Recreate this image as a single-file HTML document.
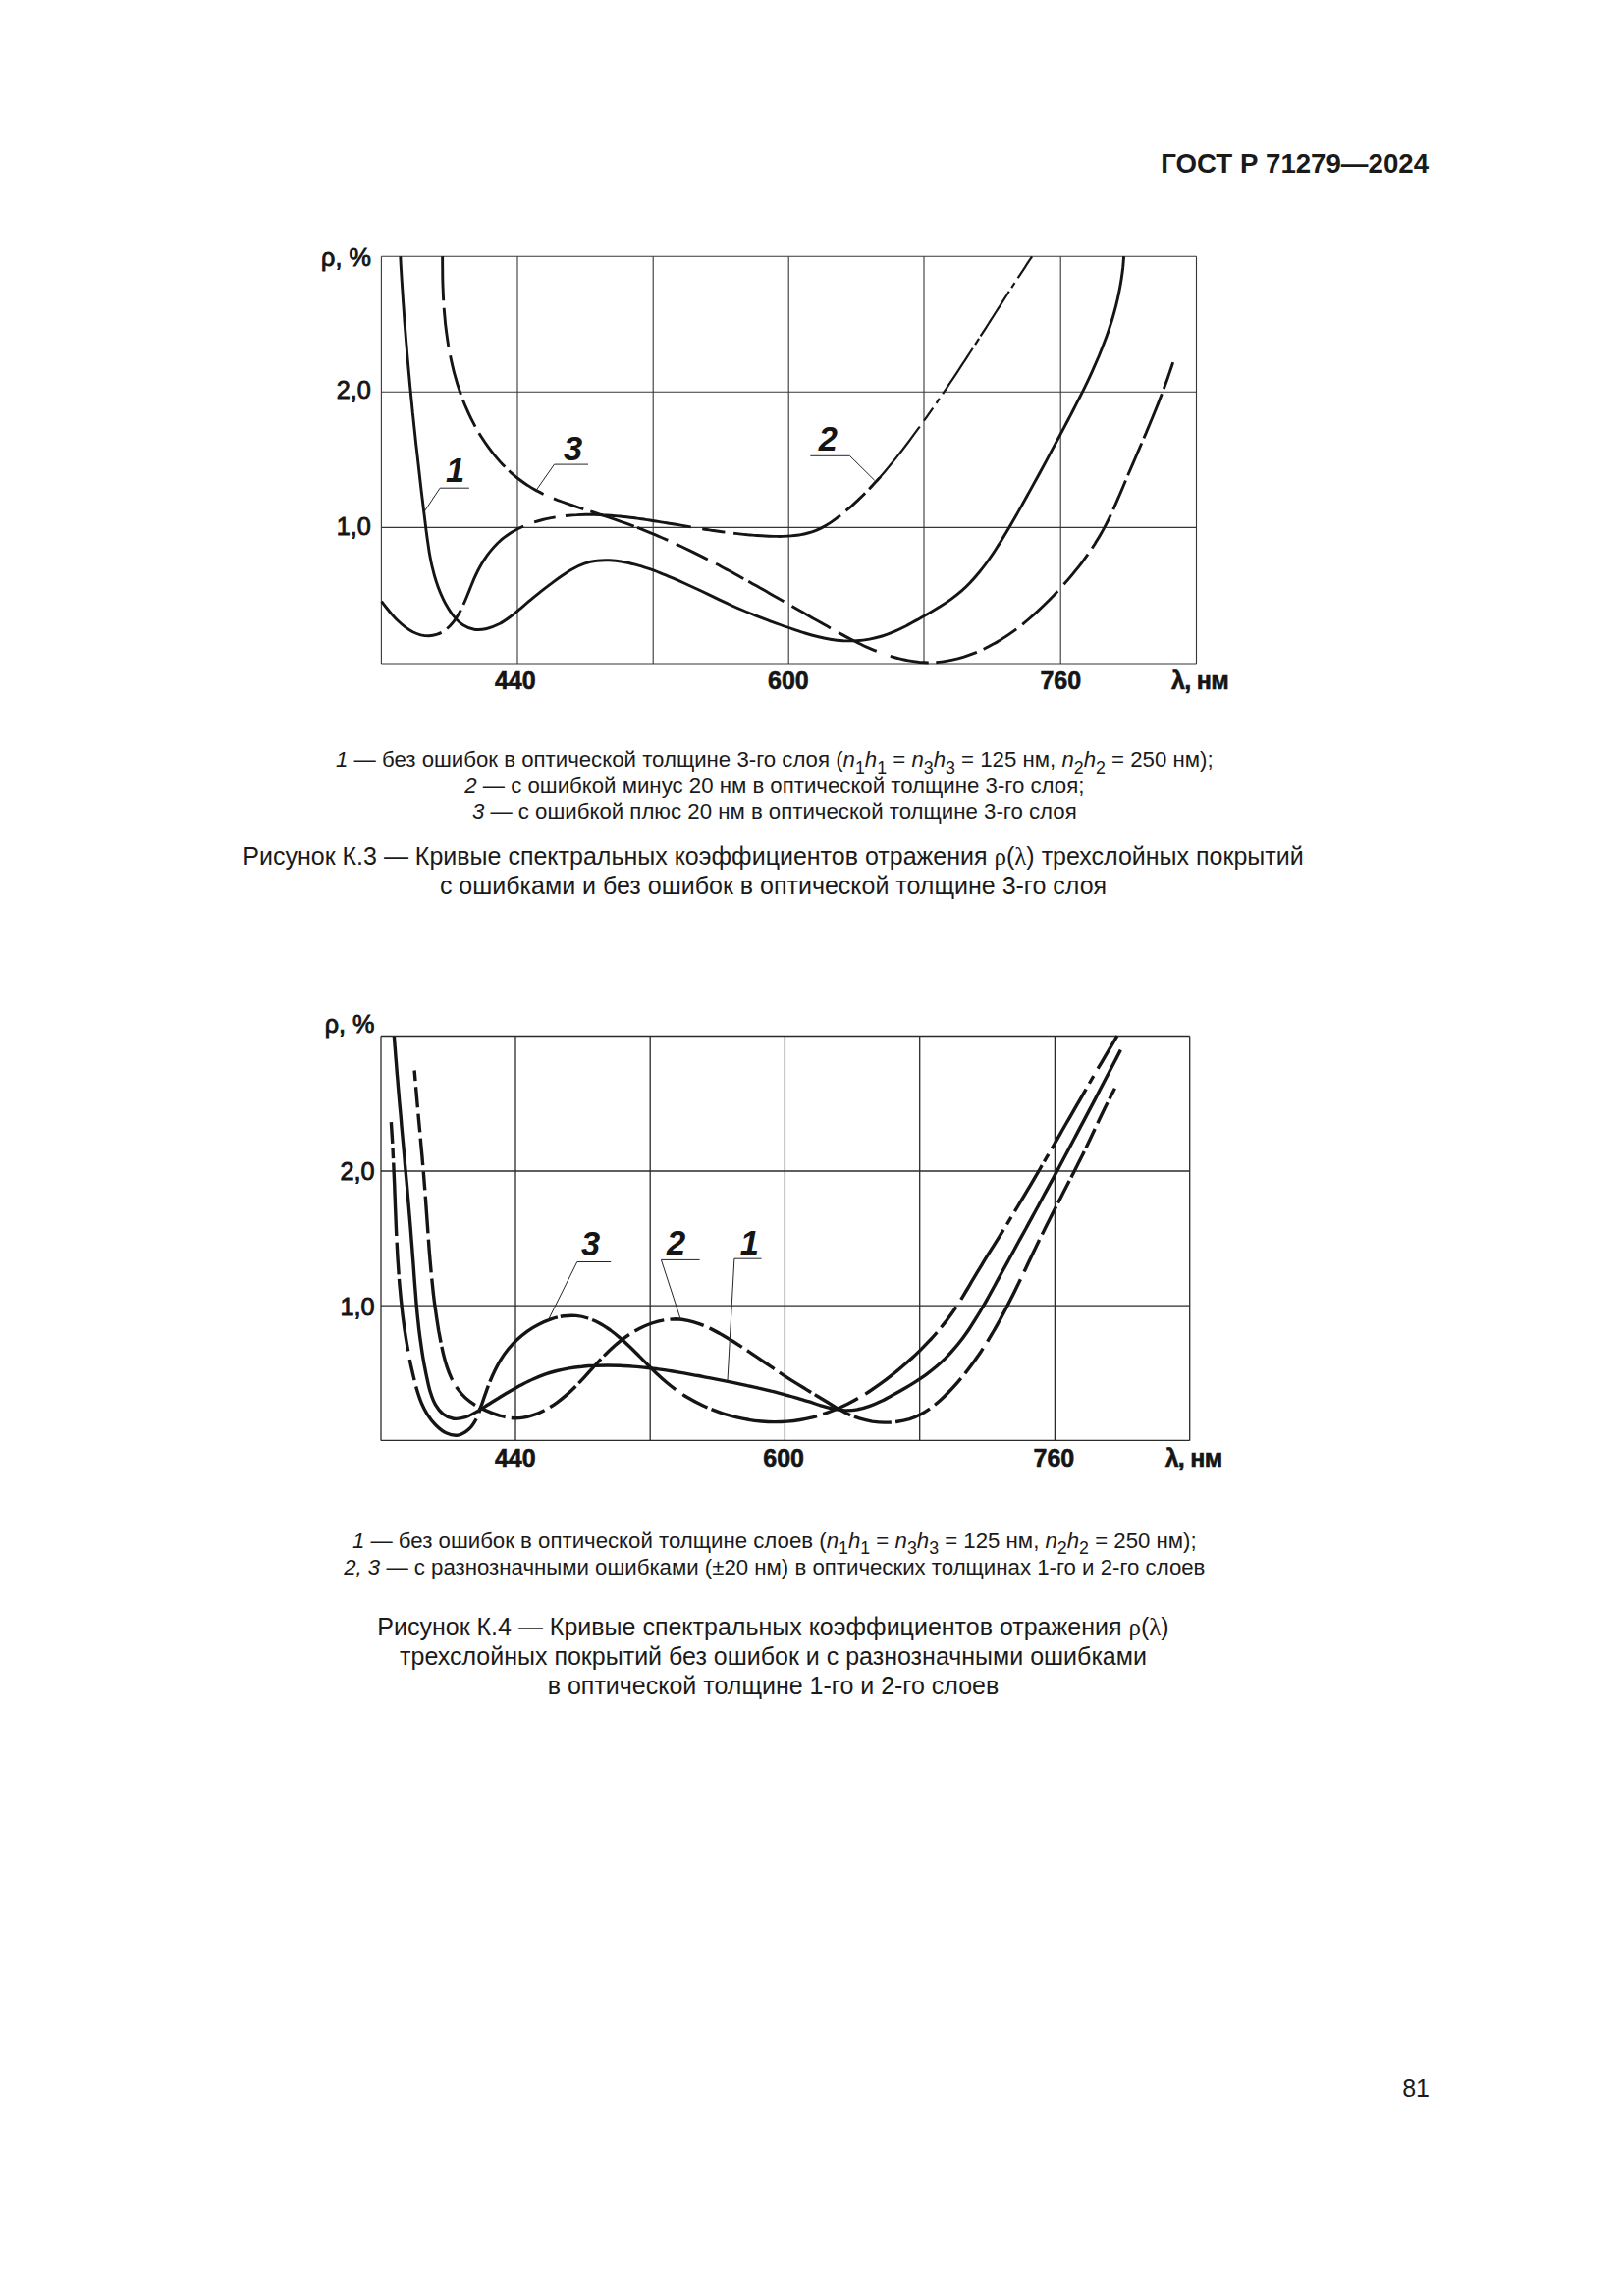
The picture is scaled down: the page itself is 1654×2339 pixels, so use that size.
<!DOCTYPE html>
<html lang="ru">
<head>
<meta charset="utf-8">
<title>ГОСТ Р 71279—2024 — стр. 81</title>
<style>
html,body{margin:0;padding:0;background:#fff;}
body{width:1654px;height:2339px;overflow:hidden;}
.page{position:relative;width:1654px;height:2339px;background:#fff;color:#1a1a1a;
  font-family:"Liberation Sans",sans-serif;}
figure,figcaption,main{margin:0;padding:0;display:block;}
.chart{position:absolute;overflow:visible;}
.hdr{position:absolute;right:199px;top:149.3px;font-size:27.65px;line-height:36px;font-weight:bold;white-space:nowrap;}
.pg{position:absolute;right:198px;top:2111px;font-size:25px;line-height:32px;white-space:nowrap;}
.ln{position:absolute;left:187.5px;width:1200px;text-align:center;white-space:nowrap;}
.lg{font-size:22.22px;line-height:26px;left:188.8px;}
.cp{font-size:25px;line-height:30px;}
.sym{font-family:"Liberation Serif",serif;}
sub{font-size:0.8em;vertical-align:baseline;position:relative;top:0.36em;line-height:0;}
</style>
</head>
<body>
<div class="page">
<header class="hdr">ГОСТ Р 71279—2024</header>
<main>
<figure>
<svg class="chart" role="img" aria-label="Рисунок К.3" style="left:300px;top:230px" width="1000" height="500" viewBox="300 230 1000 500">
<g stroke="#363636" stroke-width="1.10"><line x1="388.4" y1="261.2" x2="388.4" y2="676.0"/><line x1="527.0" y1="261.2" x2="527.0" y2="676.0"/><line x1="665.2" y1="261.2" x2="665.2" y2="676.0"/><line x1="803.2" y1="261.2" x2="803.2" y2="676.0"/><line x1="941.0" y1="261.2" x2="941.0" y2="676.0"/><line x1="1080.2" y1="261.2" x2="1080.2" y2="676.0"/><line x1="1218.5" y1="261.2" x2="1218.5" y2="676.0"/><line x1="388.4" y1="261.2" x2="1218.5" y2="261.2"/><line x1="388.4" y1="399.2" x2="1218.5" y2="399.2"/><line x1="388.4" y1="537.4" x2="1218.5" y2="537.4"/><line x1="388.4" y1="676.0" x2="1218.5" y2="676.0"/></g>
<path d="M407.8 261.3C407.9 263.5 408.2 270.1 408.5 274.5C408.8 278.9 409.0 283.3 409.3 287.7C409.6 292.1 409.9 296.6 410.2 301.0C410.4 305.4 410.8 309.8 411.1 314.2C411.4 318.7 411.7 323.1 412.0 327.5C412.4 331.9 412.7 336.3 413.1 340.8C413.4 345.2 413.8 349.6 414.2 354.0C414.5 358.5 414.9 362.9 415.3 367.3C415.7 371.8 416.1 376.2 416.5 380.6C416.9 385.0 417.3 389.5 417.7 393.9C418.2 398.3 418.6 402.7 419.0 407.1C419.5 411.6 419.9 416.0 420.3 420.4C420.8 424.8 421.3 429.3 421.7 433.7C422.2 438.1 422.7 442.5 423.1 446.9C423.6 451.3 424.1 455.8 424.6 460.2C425.1 464.6 425.6 469.0 426.1 473.4C426.6 477.8 427.1 482.2 427.6 486.6C428.1 491.0 428.6 495.4 429.1 499.8C429.6 504.2 430.2 508.6 430.7 513.0C431.2 517.4 431.8 521.8 432.3 526.1C432.8 530.5 433.4 534.9 433.9 539.3C434.5 543.7 435.0 548.0 435.7 552.4C436.3 556.7 436.9 561.1 437.7 565.4C438.5 569.8 439.3 574.1 440.4 578.4C441.4 582.7 442.5 586.9 443.9 591.2C445.2 595.4 446.7 599.7 448.5 603.8C450.3 608.0 452.2 612.3 454.5 616.3C456.8 620.3 459.3 624.5 462.2 627.9C465.0 631.3 468.1 634.6 471.6 636.8C475.1 639.1 479.0 640.6 483.0 641.2C487.0 641.8 491.5 641.4 495.7 640.5C499.9 639.6 504.2 637.8 508.1 635.8C512.1 633.9 515.9 631.2 519.5 628.5C523.2 625.9 526.7 622.8 530.2 619.9C533.6 616.9 537.0 613.9 540.4 611.1C543.8 608.2 547.1 605.6 550.5 602.9C553.9 600.2 557.3 597.6 560.9 594.9C564.4 592.3 568.0 589.5 571.7 587.0C575.4 584.4 579.2 581.8 583.1 579.7C587.0 577.6 591.0 575.6 595.1 574.2C599.2 572.8 603.4 571.8 607.7 571.3C612.0 570.7 616.3 570.6 620.7 570.8C625.0 571.0 629.5 571.5 633.9 572.3C638.3 573.0 642.7 574.1 647.1 575.2C651.5 576.4 655.8 577.8 660.1 579.2C664.4 580.6 668.6 582.2 672.8 583.8C676.9 585.4 681.0 587.1 685.1 588.8C689.2 590.5 693.2 592.3 697.2 594.2C701.2 596.0 705.2 597.8 709.2 599.7C713.2 601.6 717.1 603.5 721.1 605.4C725.0 607.3 729.0 609.2 733.0 611.1C737.0 613.0 741.0 614.8 745.0 616.7C749.0 618.5 753.1 620.3 757.2 622.0C761.3 623.8 765.4 625.4 769.6 627.1C773.7 628.7 777.9 630.3 782.1 631.9C786.3 633.5 790.5 635.0 794.7 636.5C798.9 638.0 803.1 639.5 807.3 640.9C811.5 642.3 815.6 643.7 819.9 645.0C824.1 646.3 828.3 647.5 832.6 648.5C836.9 649.6 841.2 650.5 845.6 651.2C850.0 651.9 854.5 652.4 858.9 652.7C863.3 652.9 867.8 653.0 872.3 652.7C876.7 652.4 881.1 651.9 885.5 651.1C889.8 650.3 894.2 649.2 898.4 648.0C902.6 646.7 906.8 645.1 910.8 643.4C914.9 641.7 918.8 639.8 922.8 637.8C926.7 635.7 930.5 633.5 934.4 631.4C938.3 629.2 942.2 626.9 946.1 624.7C949.9 622.4 953.8 620.1 957.6 617.8C961.4 615.4 965.2 612.9 968.7 610.3C972.3 607.7 975.8 605.0 979.1 602.1C982.4 599.2 985.6 596.1 988.6 592.9C991.7 589.8 994.5 586.4 997.3 583.0C1000.1 579.6 1002.8 576.1 1005.4 572.5C1008.0 568.9 1010.5 565.3 1013.0 561.5C1015.4 557.8 1017.8 554.0 1020.1 550.2C1022.4 546.4 1024.7 542.6 1027.0 538.7C1029.2 534.9 1031.5 531.0 1033.7 527.2C1035.9 523.3 1038.1 519.5 1040.3 515.6C1042.4 511.8 1044.6 507.9 1046.7 504.0C1048.9 500.2 1051.0 496.3 1053.1 492.4C1055.3 488.5 1057.4 484.7 1059.5 480.8C1061.6 476.9 1063.7 473.0 1065.8 469.1C1067.9 465.2 1070.0 461.3 1072.0 457.4C1074.1 453.5 1076.2 449.6 1078.3 445.7C1080.4 441.8 1082.5 437.9 1084.6 433.9C1086.6 430.0 1088.7 426.1 1090.8 422.1C1092.8 418.2 1094.9 414.2 1096.9 410.2C1098.9 406.3 1100.9 402.3 1102.9 398.3C1104.9 394.3 1106.8 390.3 1108.7 386.3C1110.6 382.3 1112.4 378.2 1114.2 374.2C1116.0 370.1 1117.8 366.0 1119.5 362.0C1121.2 357.9 1122.8 353.8 1124.4 349.6C1126.0 345.5 1127.5 341.3 1128.9 337.2C1130.3 333.0 1131.7 328.8 1133.0 324.5C1134.2 320.3 1135.4 316.1 1136.5 311.8C1137.6 307.5 1138.6 303.2 1139.5 298.9C1140.4 294.5 1141.2 290.2 1141.9 285.8C1142.6 281.4 1143.2 276.6 1143.7 272.5C1144.1 268.4 1144.4 263.1 1144.6 261.2" fill="none" stroke="#151515" stroke-width="2.9"/>
<defs><clipPath id="c2lo"><path d="M300 230H1300V730H300ZM884 230H1300V486H884Z" clip-rule="evenodd"/></clipPath><clipPath id="c2hi"><rect x="884" y="230" width="416" height="256"/></clipPath></defs>
<path d="M388.6 612.6C389.4 613.7 391.7 616.8 393.5 619.0C395.2 621.2 397.2 623.7 399.2 625.9C401.2 628.2 403.4 630.6 405.7 632.8C407.9 634.9 410.3 637.1 412.8 638.9C415.2 640.7 417.8 642.4 420.4 643.8C423.1 645.1 425.8 646.1 428.5 646.8C431.2 647.4 434.0 647.7 436.7 647.7C439.4 647.6 442.1 647.2 444.6 646.4C447.2 645.7 449.7 644.5 452.0 643.0C454.2 641.5 456.4 639.6 458.4 637.5C460.4 635.4 462.3 633.0 464.0 630.6C465.7 628.1 467.2 625.5 468.7 622.8C470.1 620.1 471.4 617.3 472.6 614.5C473.8 611.8 475.0 609.0 476.1 606.2C477.2 603.5 478.3 600.7 479.4 598.0C480.5 595.3 481.6 592.6 482.7 589.9C483.9 587.2 485.1 584.6 486.4 582.0C487.7 579.3 489.1 576.8 490.6 574.2C492.1 571.7 493.7 569.2 495.4 566.8C497.1 564.4 498.9 562.1 500.8 559.9C502.7 557.6 504.7 555.5 506.7 553.5C508.8 551.4 511.0 549.5 513.3 547.7C515.5 545.9 517.9 544.3 520.3 542.7C522.8 541.2 525.3 539.8 527.9 538.5C530.5 537.2 533.1 536.0 535.8 534.9C538.5 533.8 541.3 532.8 544.1 531.9C546.9 531.0 549.8 530.2 552.6 529.5C555.5 528.8 558.4 528.2 561.3 527.6C564.2 527.1 567.1 526.6 570.1 526.2C573.0 525.8 575.9 525.5 578.8 525.2C581.7 524.9 584.7 524.7 587.6 524.6C590.5 524.4 593.4 524.3 596.4 524.3C599.3 524.3 602.2 524.3 605.1 524.3C608.1 524.4 611.0 524.5 613.9 524.7C616.8 524.8 619.7 525.0 622.7 525.2C625.6 525.5 628.5 525.7 631.4 526.0C634.3 526.3 637.2 526.7 640.1 527.0C643.0 527.4 645.9 527.7 648.8 528.1C651.8 528.5 654.6 529.0 657.5 529.4C660.4 529.8 663.3 530.3 666.2 530.7C669.1 531.2 672.0 531.6 674.9 532.1C677.8 532.6 680.7 533.0 683.5 533.5C686.4 534.0 689.3 534.5 692.2 534.9C695.1 535.4 697.9 535.9 700.8 536.4C703.7 536.9 706.6 537.3 709.5 537.8C712.3 538.3 715.2 538.7 718.1 539.2C721.0 539.6 723.9 540.1 726.8 540.5C729.6 540.9 732.5 541.3 735.4 541.7C738.3 542.1 741.2 542.5 744.1 542.9C747.0 543.2 750.0 543.6 752.9 543.9C755.8 544.2 758.7 544.5 761.6 544.8C764.6 545.0 767.5 545.3 770.4 545.5C773.4 545.7 776.3 545.9 779.3 546.0C782.2 546.2 785.2 546.3 788.2 546.4C791.1 546.4 794.1 546.5 797.0 546.4C800.0 546.3 802.9 546.2 805.8 545.9C808.8 545.7 811.6 545.3 814.5 544.9C817.3 544.4 820.2 543.8 822.9 543.0C825.7 542.3 828.4 541.4 831.1 540.3C833.7 539.3 836.3 538.0 838.9 536.6C841.4 535.2 843.9 533.7 846.3 532.1C848.8 530.4 851.2 528.7 853.5 526.9C855.9 525.1 858.2 523.2 860.5 521.3C862.7 519.4 865.0 517.5 867.2 515.6C869.4 513.6 871.5 511.6 873.7 509.6C875.8 507.6 877.9 505.6 880.0 503.5C882.1 501.4 884.1 499.3 886.1 497.2C888.1 495.1 890.1 492.9 892.1 490.8C894.1 488.6 896.0 486.4 897.9 484.2C899.9 482.0 901.8 479.8 903.6 477.5C905.5 475.3 907.4 473.0 909.2 470.8C911.1 468.5 912.9 466.2 914.7 463.9C916.5 461.6 918.3 459.3 920.1 457.0C921.9 454.7 923.6 452.3 925.4 450.0C927.2 447.6 928.9 445.3 930.6 442.9C932.4 440.6 934.1 438.2 935.8 435.9C937.6 433.5 939.3 431.1 941.0 428.8C942.7 426.4 944.4 424.0 946.0 421.6C947.7 419.2 949.4 416.8 951.1 414.4C952.7 412.0 954.4 409.6 956.0 407.2C957.7 404.8 959.3 402.4 961.0 399.9C962.6 397.5 964.3 395.1 965.9 392.7C967.5 390.2 969.1 387.8 970.8 385.4C972.4 382.9 974.0 380.5 975.6 378.1C977.2 375.6 978.8 373.2 980.4 370.7C982.0 368.3 983.6 365.8 985.2 363.4C986.8 360.9 988.4 358.4 990.0 356.0C991.5 353.5 993.1 351.1 994.7 348.6C996.3 346.1 997.9 343.7 999.4 341.2C1001.0 338.8 1002.6 336.3 1004.2 333.8C1005.8 331.4 1007.3 328.9 1008.9 326.4C1010.5 324.0 1012.1 321.5 1013.6 319.0C1015.2 316.6 1016.8 314.1 1018.4 311.6C1019.9 309.2 1021.5 306.7 1023.1 304.2C1024.7 301.8 1026.3 299.3 1027.8 296.8C1029.4 294.4 1031.0 291.9 1032.6 289.5C1034.2 287.0 1035.8 284.6 1037.4 282.1C1039.0 279.6 1040.6 277.2 1042.2 274.8C1043.8 272.3 1045.6 269.7 1047.0 267.4C1048.5 265.2 1050.4 262.3 1051.1 261.3" fill="none" stroke="#151515" stroke-width="2.9" stroke-dasharray="75.2 6.9 23.8 6.1 103.9 11.7 22.2 10.3 128.7 11.7 23.4 8.8 114.1 7.4 26.4 5.9 81.9 7.3 16.1 5.8 5.8 5.8 55.6 4.4 7.3 3.0 54.1 4.4 5.9 5.9 76.3 0.0" clip-path="url(#c2lo)"/>
<path d="M388.6 612.6C389.4 613.7 391.7 616.8 393.5 619.0C395.2 621.2 397.2 623.7 399.2 625.9C401.2 628.2 403.4 630.6 405.7 632.8C407.9 634.9 410.3 637.1 412.8 638.9C415.2 640.7 417.8 642.4 420.4 643.8C423.1 645.1 425.8 646.1 428.5 646.8C431.2 647.4 434.0 647.7 436.7 647.7C439.4 647.6 442.1 647.2 444.6 646.4C447.2 645.7 449.7 644.5 452.0 643.0C454.2 641.5 456.4 639.6 458.4 637.5C460.4 635.4 462.3 633.0 464.0 630.6C465.7 628.1 467.2 625.5 468.7 622.8C470.1 620.1 471.4 617.3 472.6 614.5C473.8 611.8 475.0 609.0 476.1 606.2C477.2 603.5 478.3 600.7 479.4 598.0C480.5 595.3 481.6 592.6 482.7 589.9C483.9 587.2 485.1 584.6 486.4 582.0C487.7 579.3 489.1 576.8 490.6 574.2C492.1 571.7 493.7 569.2 495.4 566.8C497.1 564.4 498.9 562.1 500.8 559.9C502.7 557.6 504.7 555.5 506.7 553.5C508.8 551.4 511.0 549.5 513.3 547.7C515.5 545.9 517.9 544.3 520.3 542.7C522.8 541.2 525.3 539.8 527.9 538.5C530.5 537.2 533.1 536.0 535.8 534.9C538.5 533.8 541.3 532.8 544.1 531.9C546.9 531.0 549.8 530.2 552.6 529.5C555.5 528.8 558.4 528.2 561.3 527.6C564.2 527.1 567.1 526.6 570.1 526.2C573.0 525.8 575.9 525.5 578.8 525.2C581.7 524.9 584.7 524.7 587.6 524.6C590.5 524.4 593.4 524.3 596.4 524.3C599.3 524.3 602.2 524.3 605.1 524.3C608.1 524.4 611.0 524.5 613.9 524.7C616.8 524.8 619.7 525.0 622.7 525.2C625.6 525.5 628.5 525.7 631.4 526.0C634.3 526.3 637.2 526.7 640.1 527.0C643.0 527.4 645.9 527.7 648.8 528.1C651.8 528.5 654.6 529.0 657.5 529.4C660.4 529.8 663.3 530.3 666.2 530.7C669.1 531.2 672.0 531.6 674.9 532.1C677.8 532.6 680.7 533.0 683.5 533.5C686.4 534.0 689.3 534.5 692.2 534.9C695.1 535.4 697.9 535.9 700.8 536.4C703.7 536.9 706.6 537.3 709.5 537.8C712.3 538.3 715.2 538.7 718.1 539.2C721.0 539.6 723.9 540.1 726.8 540.5C729.6 540.9 732.5 541.3 735.4 541.7C738.3 542.1 741.2 542.5 744.1 542.9C747.0 543.2 750.0 543.6 752.9 543.9C755.8 544.2 758.7 544.5 761.6 544.8C764.6 545.0 767.5 545.3 770.4 545.5C773.4 545.7 776.3 545.9 779.3 546.0C782.2 546.2 785.2 546.3 788.2 546.4C791.1 546.4 794.1 546.5 797.0 546.4C800.0 546.3 802.9 546.2 805.8 545.9C808.8 545.7 811.6 545.3 814.5 544.9C817.3 544.4 820.2 543.8 822.9 543.0C825.7 542.3 828.4 541.4 831.1 540.3C833.7 539.3 836.3 538.0 838.9 536.6C841.4 535.2 843.9 533.7 846.3 532.1C848.8 530.4 851.2 528.7 853.5 526.9C855.9 525.1 858.2 523.2 860.5 521.3C862.7 519.4 865.0 517.5 867.2 515.6C869.4 513.6 871.5 511.6 873.7 509.6C875.8 507.6 877.9 505.6 880.0 503.5C882.1 501.4 884.1 499.3 886.1 497.2C888.1 495.1 890.1 492.9 892.1 490.8C894.1 488.6 896.0 486.4 897.9 484.2C899.9 482.0 901.8 479.8 903.6 477.5C905.5 475.3 907.4 473.0 909.2 470.8C911.1 468.5 912.9 466.2 914.7 463.9C916.5 461.6 918.3 459.3 920.1 457.0C921.9 454.7 923.6 452.3 925.4 450.0C927.2 447.6 928.9 445.3 930.6 442.9C932.4 440.6 934.1 438.2 935.8 435.9C937.6 433.5 939.3 431.1 941.0 428.8C942.7 426.4 944.4 424.0 946.0 421.6C947.7 419.2 949.4 416.8 951.1 414.4C952.7 412.0 954.4 409.6 956.0 407.2C957.7 404.8 959.3 402.4 961.0 399.9C962.6 397.5 964.3 395.1 965.9 392.7C967.5 390.2 969.1 387.8 970.8 385.4C972.4 382.9 974.0 380.5 975.6 378.1C977.2 375.6 978.8 373.2 980.4 370.7C982.0 368.3 983.6 365.8 985.2 363.4C986.8 360.9 988.4 358.4 990.0 356.0C991.5 353.5 993.1 351.1 994.7 348.6C996.3 346.1 997.9 343.7 999.4 341.2C1001.0 338.8 1002.6 336.3 1004.2 333.8C1005.8 331.4 1007.3 328.9 1008.9 326.4C1010.5 324.0 1012.1 321.5 1013.6 319.0C1015.2 316.6 1016.8 314.1 1018.4 311.6C1019.9 309.2 1021.5 306.7 1023.1 304.2C1024.7 301.8 1026.3 299.3 1027.8 296.8C1029.4 294.4 1031.0 291.9 1032.6 289.5C1034.2 287.0 1035.8 284.6 1037.4 282.1C1039.0 279.6 1040.6 277.2 1042.2 274.8C1043.8 272.3 1045.6 269.7 1047.0 267.4C1048.5 265.2 1050.4 262.3 1051.1 261.3" fill="none" stroke="#151515" stroke-width="2.2" stroke-dasharray="75.2 6.9 23.8 6.1 103.9 11.7 22.2 10.3 128.7 11.7 23.4 8.8 114.1 7.4 26.4 5.9 81.9 7.3 16.1 5.8 5.8 5.8 55.6 4.4 7.3 3.0 54.1 4.4 5.9 5.9 76.3 0.0" clip-path="url(#c2hi)"/>
<path d="M450.6 261.2C450.7 263.1 450.6 268.7 450.7 272.4C450.7 276.2 450.8 279.9 450.8 283.7C450.9 287.5 451.0 291.2 451.2 295.0C451.3 298.8 451.5 302.5 451.7 306.3C451.9 310.1 452.2 313.8 452.5 317.6C452.8 321.3 453.2 325.1 453.5 328.8C453.9 332.6 454.4 336.3 454.9 340.1C455.4 343.8 455.9 347.5 456.5 351.2C457.2 354.9 457.8 358.6 458.6 362.3C459.3 366.0 460.1 369.6 461.0 373.3C461.8 376.9 462.7 380.5 463.8 384.1C464.8 387.7 465.8 391.3 467.0 394.9C468.2 398.4 469.4 402.0 470.7 405.5C472.1 409.0 473.5 412.5 475.0 415.9C476.5 419.4 478.0 422.8 479.7 426.2C481.4 429.6 483.2 433.0 485.0 436.3C486.9 439.6 488.8 442.8 490.9 446.0C492.9 449.2 495.1 452.4 497.3 455.4C499.5 458.5 501.8 461.5 504.2 464.4C506.6 467.3 509.1 470.2 511.7 472.9C514.3 475.6 517.0 478.2 519.7 480.8C522.5 483.3 525.3 485.7 528.3 488.0C531.2 490.2 534.2 492.4 537.4 494.4C540.5 496.5 543.7 498.4 547.0 500.1C550.2 501.9 553.6 503.5 557.0 505.0C560.5 506.5 564.0 507.9 567.5 509.3C571.0 510.6 574.6 511.9 578.1 513.2C581.7 514.4 585.3 515.6 588.9 516.8C592.5 518.0 596.1 519.1 599.7 520.3C603.2 521.5 606.8 522.7 610.4 523.8C614.0 525.0 617.5 526.2 621.1 527.4C624.7 528.6 628.2 529.8 631.7 531.1C635.3 532.3 638.8 533.6 642.3 534.9C645.8 536.2 649.3 537.5 652.8 538.9C656.3 540.3 659.8 541.7 663.2 543.1C666.7 544.5 670.1 546.0 673.5 547.5C677.0 549.0 680.4 550.5 683.8 552.0C687.2 553.6 690.6 555.2 694.0 556.8C697.4 558.4 700.8 560.0 704.1 561.6C707.5 563.3 710.8 565.0 714.2 566.6C717.6 568.3 720.9 570.0 724.2 571.8C727.6 573.5 730.9 575.2 734.2 577.0C737.5 578.8 740.8 580.6 744.2 582.3C747.5 584.1 750.8 585.9 754.1 587.8C757.4 589.6 760.7 591.4 764.0 593.2C767.2 595.1 770.5 596.9 773.8 598.8C777.1 600.6 780.4 602.5 783.7 604.4C786.9 606.2 790.2 608.1 793.5 610.0C796.8 611.9 800.0 613.8 803.3 615.6C806.6 617.5 809.9 619.4 813.1 621.3C816.4 623.2 819.7 625.0 823.0 626.9C826.2 628.8 829.5 630.7 832.8 632.5C836.1 634.4 839.4 636.3 842.7 638.1C846.0 640.0 849.2 641.8 852.5 643.7C855.8 645.5 859.2 647.3 862.5 649.1C865.8 650.8 869.1 652.6 872.5 654.2C875.8 655.9 879.2 657.5 882.6 659.1C886.0 660.6 889.5 662.1 892.9 663.5C896.4 664.8 899.9 666.1 903.4 667.3C906.9 668.5 910.5 669.6 914.1 670.5C917.8 671.4 921.4 672.3 925.1 672.9C928.8 673.6 932.6 674.1 936.4 674.5C940.1 674.8 944.0 675.0 947.7 674.9C951.5 674.9 955.3 674.6 959.1 674.1C962.8 673.6 966.5 673.0 970.2 672.2C973.8 671.4 977.5 670.4 981.0 669.3C984.6 668.3 988.1 667.0 991.5 665.7C995.0 664.3 998.4 662.9 1001.8 661.3C1005.1 659.7 1008.4 658.0 1011.7 656.1C1015.0 654.3 1018.2 652.4 1021.3 650.4C1024.5 648.4 1027.6 646.3 1030.7 644.1C1033.8 641.9 1036.8 639.6 1039.8 637.3C1042.7 634.9 1045.7 632.5 1048.6 630.0C1051.5 627.5 1054.3 625.0 1057.1 622.4C1059.9 619.8 1062.6 617.2 1065.3 614.5C1068.1 611.8 1070.7 609.1 1073.3 606.4C1076.0 603.6 1078.5 600.8 1081.1 598.0C1083.6 595.2 1086.1 592.4 1088.5 589.6C1091.0 586.7 1093.4 583.9 1095.7 580.9C1098.1 578.0 1100.3 575.1 1102.6 572.1C1104.8 569.1 1107.0 566.1 1109.1 563.1C1111.2 560.0 1113.3 556.9 1115.3 553.8C1117.2 550.6 1119.2 547.4 1121.0 544.2C1122.9 541.0 1124.7 537.7 1126.4 534.4C1128.1 531.0 1129.8 527.6 1131.4 524.2C1133.0 520.8 1134.6 517.4 1136.1 513.9C1137.6 510.4 1139.1 507.0 1140.6 503.5C1142.1 500.0 1143.6 496.5 1145.0 493.0C1146.5 489.5 1148.0 486.0 1149.4 482.5C1150.9 479.1 1152.4 475.6 1153.9 472.1C1155.4 468.7 1156.9 465.2 1158.3 461.8C1159.8 458.3 1161.3 454.9 1162.8 451.4C1164.3 448.0 1165.7 444.5 1167.2 441.1C1168.6 437.6 1170.1 434.2 1171.5 430.7C1173.0 427.3 1174.4 423.8 1175.8 420.3C1177.2 416.9 1178.6 413.4 1180.0 409.9C1181.3 406.4 1182.7 402.9 1184.0 399.4C1185.4 395.9 1186.7 392.4 1188.0 388.8C1189.2 385.3 1190.6 381.4 1191.7 378.1C1192.9 374.9 1194.2 370.6 1194.7 369.1" fill="none" stroke="#151515" stroke-width="2.9" stroke-dasharray="45.1 7.5 39.5 9.4 41.2 5.6 30.2 7.6 43.5 5.6 42.8 11.3 32.1 7.5 46.9 3.7 33.7 9.4 35.6 9.4 32.0 5.7 41.5 9.4 45.3 9.4 43.1 14.9 39.6 7.6 43.0 7.4 39.4 7.6 49.5 9.4 39.2 7.4 39.3 5.7 32.2 5.7 35.7 5.6 48.7 5.6 78.3 0.0"/>
<polyline points="477.9,497.2 448.1,497.2 432.6,520.5" fill="none" stroke="#262626" stroke-width="1"/>
<polyline points="599.0,473.1 564.5,473.1 546.4,499.0" fill="none" stroke="#262626" stroke-width="1"/>
<polyline points="825.3,464.3 865.4,464.3 890.7,489.3" fill="none" stroke="#262626" stroke-width="1"/>
<text x="463.5" y="491.0" text-anchor="middle" font-family="Liberation Sans, sans-serif" font-size="34.5" font-style="italic" font-weight="bold" fill="#151515">1</text>
<text x="583.5" y="468.6" text-anchor="middle" font-family="Liberation Sans, sans-serif" font-size="34.5" font-style="italic" font-weight="bold" fill="#151515">3</text>
<text x="843.3" y="458.7" text-anchor="middle" font-family="Liberation Sans, sans-serif" font-size="34.5" font-style="italic" font-weight="bold" fill="#151515">2</text>
<text x="377.8" y="270.7" text-anchor="end" font-family="Liberation Sans, sans-serif" font-size="25.2" fill="#151515" stroke="#151515" stroke-width="0.9">ρ, %</text>
<text x="377.8" y="406.3" text-anchor="end" font-family="Liberation Sans, sans-serif" font-size="25.2" fill="#151515" stroke="#151515" stroke-width="0.9">2,0</text>
<text x="377.8" y="544.5" text-anchor="end" font-family="Liberation Sans, sans-serif" font-size="25.2" fill="#151515" stroke="#151515" stroke-width="0.9">1,0</text>
<text x="524.8" y="701.6" text-anchor="middle" font-family="Liberation Sans, sans-serif" font-size="25" font-weight="bold" fill="#151515" stroke="#151515" stroke-width="0.6">440</text>
<text x="802.9" y="701.6" text-anchor="middle" font-family="Liberation Sans, sans-serif" font-size="25" font-weight="bold" fill="#151515" stroke="#151515" stroke-width="0.6">600</text>
<text x="1080.3" y="701.6" text-anchor="middle" font-family="Liberation Sans, sans-serif" font-size="25" font-weight="bold" fill="#151515" stroke="#151515" stroke-width="0.6">760</text>
<text x="1222.0" y="701.6" text-anchor="middle" font-family="Liberation Sans, sans-serif" font-size="25" font-weight="bold" fill="#151515" stroke="#151515" stroke-width="0.6" letter-spacing="-0.7">λ, нм</text>
</svg>
<div class="legend">
<div class="ln lg" style="top:761.30px"><i>1</i> — без ошибок в оптической толщине 3-го слоя (<i>n</i><sub>1</sub><i>h</i><sub>1</sub> = <i>n</i><sub>3</sub><i>h</i><sub>3</sub> = 125 нм, <i>n</i><sub>2</sub><i>h</i><sub>2</sub> = 250 нм);</div>
<div class="ln lg" style="top:788.00px"><i>2</i> — с ошибкой минус 20 нм в оптической толщине 3-го слоя;</div>
<div class="ln lg" style="top:813.90px"><i>3</i> — с ошибкой плюс 20 нм в оптической толщине 3-го слоя</div>
</div>
<figcaption>
<div class="ln cp" style="top:857.14px">Рисунок К.3 — Кривые спектральных коэффициентов отражения <span class="sym">ρ</span>(<span class="sym">λ</span>) трехслойных покрытий</div>
<div class="ln cp" style="top:886.54px">с ошибками и без ошибок в оптической толщине 3-го слоя</div>
</figcaption>
</figure>
<figure>
<svg class="chart" role="img" aria-label="Рисунок К.4" style="left:300px;top:1015px" width="1000" height="500" viewBox="300 1015 1000 500">
<g stroke="#2a2a2a" stroke-width="1.30"><line x1="388.0" y1="1055.5" x2="388.0" y2="1467.4"/><line x1="525.0" y1="1055.5" x2="525.0" y2="1467.4"/><line x1="662.2" y1="1055.5" x2="662.2" y2="1467.4"/><line x1="799.4" y1="1055.5" x2="799.4" y2="1467.4"/><line x1="936.7" y1="1055.5" x2="936.7" y2="1467.4"/><line x1="1074.4" y1="1055.5" x2="1074.4" y2="1467.4"/><line x1="1211.7" y1="1055.5" x2="1211.7" y2="1467.4"/><line x1="388.0" y1="1055.5" x2="1211.7" y2="1055.5"/><line x1="388.0" y1="1193.0" x2="1211.7" y2="1193.0"/><line x1="388.0" y1="1330.1" x2="1211.7" y2="1330.1"/><line x1="388.0" y1="1467.4" x2="1211.7" y2="1467.4"/></g>
<path d="M401.4 1055.8C401.6 1057.9 402.0 1064.3 402.4 1068.6C402.7 1072.9 403.0 1077.1 403.4 1081.4C403.7 1085.7 404.1 1090.0 404.4 1094.3C404.8 1098.7 405.2 1103.0 405.5 1107.3C405.9 1111.6 406.3 1115.9 406.6 1120.3C407.0 1124.6 407.4 1128.9 407.8 1133.2C408.2 1137.6 408.6 1141.9 408.9 1146.3C409.3 1150.6 409.7 1154.9 410.1 1159.3C410.5 1163.6 410.9 1168.0 411.3 1172.3C411.7 1176.7 412.1 1181.0 412.4 1185.3C412.8 1189.7 413.2 1194.0 413.6 1198.4C414.0 1202.7 414.4 1207.1 414.8 1211.4C415.1 1215.7 415.5 1220.1 415.9 1224.4C416.3 1228.7 416.6 1233.1 417.0 1237.4C417.4 1241.7 417.7 1246.0 418.1 1250.4C418.4 1254.7 418.8 1259.0 419.1 1263.3C419.5 1267.6 419.8 1271.9 420.1 1276.2C420.4 1280.5 420.8 1284.8 421.1 1289.1C421.4 1293.3 421.7 1297.6 422.0 1301.9C422.3 1306.1 422.6 1310.4 423.0 1314.7C423.3 1319.0 423.7 1323.2 424.0 1327.5C424.4 1331.8 424.8 1336.1 425.2 1340.3C425.7 1344.6 426.1 1348.9 426.6 1353.2C427.1 1357.5 427.7 1361.9 428.3 1366.2C428.9 1370.5 429.5 1374.9 430.2 1379.2C430.9 1383.6 431.6 1388.0 432.5 1392.4C433.3 1396.8 434.2 1401.2 435.2 1405.6C436.1 1410.0 437.1 1414.6 438.5 1418.8C439.8 1423.0 441.3 1427.3 443.4 1430.8C445.5 1434.4 448.0 1437.9 451.1 1440.3C454.2 1442.7 458.1 1444.6 462.0 1445.2C465.8 1445.8 470.1 1444.9 474.1 1443.7C478.1 1442.4 482.2 1440.0 486.0 1437.9C489.9 1435.7 493.6 1433.1 497.3 1430.8C501.1 1428.4 504.8 1426.0 508.6 1423.7C512.3 1421.4 516.1 1419.1 519.9 1417.0C523.7 1414.8 527.5 1412.6 531.3 1410.7C535.2 1408.7 539.0 1406.7 543.0 1405.0C546.9 1403.3 550.9 1401.7 554.9 1400.2C558.9 1398.8 563.0 1397.6 567.2 1396.5C571.3 1395.5 575.6 1394.6 579.8 1393.9C584.1 1393.1 588.4 1392.6 592.7 1392.2C597.0 1391.7 601.4 1391.4 605.7 1391.3C610.0 1391.1 614.4 1391.0 618.8 1391.0C623.1 1391.0 627.5 1391.1 631.8 1391.3C636.1 1391.5 640.5 1391.8 644.8 1392.1C649.1 1392.4 653.5 1392.9 657.8 1393.3C662.1 1393.8 666.4 1394.3 670.7 1394.9C675.0 1395.5 679.3 1396.1 683.6 1396.8C687.9 1397.5 692.2 1398.2 696.5 1398.9C700.8 1399.7 705.1 1400.5 709.3 1401.3C713.6 1402.0 717.8 1402.9 722.1 1403.7C726.3 1404.5 730.6 1405.4 734.8 1406.2C739.0 1407.0 743.2 1407.9 747.4 1408.7C751.7 1409.6 755.9 1410.5 760.1 1411.4C764.3 1412.3 768.5 1413.2 772.7 1414.2C776.9 1415.1 781.1 1416.1 785.3 1417.2C789.5 1418.2 793.7 1419.3 797.9 1420.4C802.1 1421.5 806.3 1422.7 810.5 1423.9C814.7 1425.1 818.9 1426.4 823.2 1427.7C827.4 1429.0 831.7 1430.5 835.9 1431.8C840.1 1433.0 844.4 1434.3 848.6 1435.2C852.8 1436.0 857.0 1436.7 861.2 1436.9C865.4 1437.0 869.5 1436.6 873.6 1435.8C877.7 1435.1 881.8 1433.8 885.8 1432.4C889.8 1430.9 893.8 1429.1 897.8 1427.2C901.8 1425.3 905.7 1423.1 909.6 1421.0C913.5 1418.9 917.4 1416.7 921.2 1414.5C925.0 1412.3 928.8 1410.0 932.5 1407.6C936.2 1405.2 939.8 1402.8 943.3 1400.3C946.8 1397.7 950.2 1395.1 953.5 1392.3C956.8 1389.5 959.9 1386.6 963.0 1383.6C966.0 1380.6 968.9 1377.5 971.6 1374.2C974.4 1371.0 977.1 1367.6 979.7 1364.2C982.3 1360.8 984.8 1357.2 987.2 1353.7C989.6 1350.1 991.9 1346.4 994.2 1342.7C996.5 1339.0 998.7 1335.3 1000.9 1331.5C1003.1 1327.7 1005.2 1323.9 1007.4 1320.0C1009.5 1316.2 1011.6 1312.4 1013.7 1308.5C1015.7 1304.7 1017.8 1300.9 1019.9 1297.0C1022.0 1293.2 1024.1 1289.4 1026.2 1285.6C1028.2 1281.8 1030.3 1278.0 1032.4 1274.2C1034.5 1270.4 1036.6 1266.6 1038.6 1262.8C1040.7 1259.1 1042.8 1255.3 1044.9 1251.5C1046.9 1247.7 1049.0 1243.9 1051.1 1240.1C1053.1 1236.3 1055.2 1232.5 1057.3 1228.7C1059.3 1224.9 1061.4 1221.1 1063.4 1217.3C1065.5 1213.5 1067.6 1209.7 1069.6 1205.9C1071.7 1202.1 1073.7 1198.3 1075.8 1194.4C1077.8 1190.6 1079.9 1186.8 1081.9 1183.0C1084.0 1179.1 1086.0 1175.3 1088.0 1171.5C1090.1 1167.6 1092.1 1163.8 1094.1 1160.0C1096.2 1156.1 1098.2 1152.3 1100.2 1148.4C1102.3 1144.6 1104.3 1140.8 1106.3 1136.9C1108.3 1133.1 1110.4 1129.2 1112.4 1125.4C1114.4 1121.5 1116.4 1117.7 1118.4 1113.8C1120.4 1110.0 1122.4 1106.2 1124.4 1102.3C1126.4 1098.5 1128.4 1094.6 1130.4 1090.8C1132.4 1086.9 1134.6 1082.8 1136.4 1079.3C1138.2 1075.8 1140.5 1071.3 1141.4 1069.7" fill="none" stroke="#151515" stroke-width="3.4"/>
<path d="M422.1 1090.5C422.3 1092.6 422.8 1098.9 423.2 1103.1C423.5 1107.3 423.9 1111.5 424.3 1115.7C424.6 1119.9 425.0 1124.1 425.4 1128.3C425.8 1132.5 426.1 1136.7 426.5 1140.9C426.9 1145.1 427.3 1149.3 427.7 1153.6C428.1 1157.8 428.4 1162.0 428.8 1166.2C429.2 1170.4 429.6 1174.6 430.0 1178.8C430.3 1183.0 430.7 1187.2 431.1 1191.4C431.4 1195.7 431.8 1199.9 432.1 1204.1C432.4 1208.3 432.8 1212.5 433.1 1216.7C433.4 1220.9 433.7 1225.1 434.0 1229.3C434.3 1233.5 434.6 1237.7 434.9 1241.9C435.2 1246.1 435.5 1250.3 435.8 1254.5C436.1 1258.7 436.4 1262.9 436.7 1267.1C437.0 1271.3 437.3 1275.5 437.7 1279.7C438.0 1283.9 438.4 1288.1 438.8 1292.3C439.1 1296.5 439.5 1300.7 440.0 1304.9C440.4 1309.1 440.9 1313.3 441.3 1317.5C441.8 1321.6 442.3 1325.8 442.9 1330.0C443.5 1334.2 444.1 1338.4 444.7 1342.6C445.3 1346.8 446.0 1351.0 446.7 1355.2C447.5 1359.4 448.2 1363.6 449.1 1367.8C449.9 1372.0 450.8 1376.3 451.8 1380.4C452.8 1384.5 453.9 1388.6 455.3 1392.6C456.6 1396.5 458.1 1400.4 459.8 1404.1C461.6 1407.8 463.6 1411.3 465.9 1414.6C468.3 1417.9 470.9 1421.0 473.9 1423.9C476.9 1426.7 480.4 1429.2 484.1 1431.5C487.8 1433.7 492.0 1435.7 496.0 1437.4C500.1 1439.2 504.4 1440.8 508.5 1442.0C512.7 1443.1 516.7 1444.2 520.8 1444.5C524.9 1444.9 529.0 1444.7 533.1 1444.1C537.1 1443.5 541.1 1442.3 545.0 1440.9C548.9 1439.5 552.8 1437.7 556.5 1435.7C560.2 1433.6 563.9 1431.3 567.3 1428.8C570.8 1426.3 574.1 1423.6 577.2 1420.9C580.4 1418.1 583.4 1415.2 586.4 1412.2C589.4 1409.2 592.3 1406.1 595.1 1403.1C598.0 1400.0 600.8 1396.8 603.6 1393.7C606.4 1390.6 609.2 1387.5 612.1 1384.4C615.0 1381.4 618.0 1378.4 621.0 1375.5C624.1 1372.6 627.2 1369.7 630.5 1367.1C633.8 1364.4 637.3 1361.8 640.9 1359.5C644.5 1357.1 648.3 1354.9 652.1 1353.0C655.9 1351.1 659.9 1349.4 663.9 1348.0C667.9 1346.7 672.1 1345.6 676.1 1344.9C680.2 1344.2 684.4 1343.8 688.5 1343.8C692.6 1343.9 696.6 1344.4 700.7 1345.3C704.7 1346.1 708.7 1347.3 712.7 1348.8C716.6 1350.2 720.5 1352.0 724.4 1353.9C728.2 1355.7 732.0 1357.9 735.7 1360.0C739.5 1362.1 743.1 1364.3 746.7 1366.5C750.3 1368.8 753.9 1371.1 757.4 1373.4C760.9 1375.7 764.4 1378.0 767.8 1380.4C771.3 1382.7 774.7 1385.1 778.2 1387.5C781.6 1389.9 785.1 1392.2 788.6 1394.6C792.0 1396.9 795.5 1399.3 799.0 1401.6C802.5 1403.9 806.1 1406.2 809.7 1408.4C813.3 1410.7 817.0 1412.9 820.6 1415.1C824.2 1417.3 827.9 1419.5 831.6 1421.7C835.2 1423.9 838.8 1426.1 842.4 1428.3C846.0 1430.5 849.4 1432.8 853.1 1434.9C856.7 1436.9 860.3 1439.0 864.1 1440.7C867.9 1442.5 871.8 1444.0 875.9 1445.2C879.9 1446.5 884.1 1447.4 888.3 1448.1C892.6 1448.7 896.9 1449.1 901.2 1449.1C905.4 1449.2 909.8 1448.9 913.9 1448.3C918.1 1447.7 922.3 1446.8 926.3 1445.6C930.3 1444.3 934.1 1442.7 937.8 1440.7C941.5 1438.8 945.0 1436.5 948.4 1434.1C951.8 1431.6 955.1 1428.8 958.2 1426.0C961.4 1423.2 964.4 1420.1 967.3 1417.0C970.3 1414.0 973.1 1410.8 975.9 1407.6C978.6 1404.4 981.3 1401.2 983.9 1397.9C986.5 1394.6 989.0 1391.2 991.5 1387.8C993.9 1384.4 996.3 1381.0 998.7 1377.5C1001.0 1374.0 1003.3 1370.4 1005.5 1366.9C1007.7 1363.3 1009.8 1359.7 1012.0 1356.0C1014.1 1352.4 1016.1 1348.7 1018.2 1345.0C1020.2 1341.3 1022.2 1337.6 1024.1 1333.9C1026.1 1330.1 1028.0 1326.4 1029.9 1322.6C1031.8 1318.8 1033.7 1315.0 1035.5 1311.2C1037.4 1307.4 1039.2 1303.6 1041.1 1299.7C1042.9 1295.9 1044.7 1292.1 1046.5 1288.3C1048.4 1284.4 1050.2 1280.6 1052.0 1276.8C1053.8 1273.0 1055.7 1269.1 1057.5 1265.3C1059.3 1261.5 1061.2 1257.7 1063.1 1254.0C1064.9 1250.2 1066.8 1246.4 1068.7 1242.7C1070.6 1238.9 1072.5 1235.2 1074.5 1231.4C1076.4 1227.7 1078.3 1223.9 1080.3 1220.2C1082.2 1216.5 1084.1 1212.7 1086.0 1209.0C1088.0 1205.3 1089.9 1201.5 1091.8 1197.8C1093.7 1194.0 1095.6 1190.3 1097.5 1186.5C1099.4 1182.8 1101.3 1179.0 1103.2 1175.2C1105.0 1171.4 1106.8 1167.6 1108.7 1163.8C1110.5 1159.9 1112.3 1156.1 1114.1 1152.3C1115.9 1148.4 1117.7 1144.6 1119.5 1140.8C1121.4 1137.0 1123.2 1133.1 1125.0 1129.3C1126.9 1125.6 1128.9 1121.5 1130.7 1118.0C1132.4 1114.6 1134.7 1110.3 1135.5 1108.7" fill="none" stroke="#151515" stroke-width="3.4" stroke-dasharray="10.5 6.3 21.1 6.3 19.0 6.3 27.5 6.3 19.0 6.3 37.9 6.3 33.7 6.3 65.8 4.3 35.7 8.1 27.0 4.4 28.6 6.2 35.2 6.4 33.9 4.2 33.6 4.2 34.0 6.5 32.0 6.2 35.2 6.4 38.4 6.3 33.5 6.3 38.1 4.3 41.9 4.2 38.5 4.3 37.8 6.3 38.2 6.3 31.5 8.4 71.8 8.5 36.0 6.3 31.6 4.2 25.2 4.2 29.5 4.2 21.2 6.4 23.2 4.2 62.6 0.0"/>
<path d="M398.4 1143.2C398.5 1145.4 399.0 1151.9 399.2 1156.2C399.5 1160.6 399.8 1164.9 400.0 1169.3C400.2 1173.6 400.4 1178.0 400.6 1182.4C400.9 1186.7 401.0 1191.1 401.2 1195.5C401.4 1199.8 401.6 1204.2 401.8 1208.6C401.9 1213.0 402.1 1217.3 402.3 1221.7C402.4 1226.1 402.6 1230.5 402.8 1234.9C403.0 1239.3 403.1 1243.6 403.3 1248.0C403.5 1252.4 403.7 1256.8 403.9 1261.2C404.1 1265.6 404.4 1269.9 404.6 1274.3C404.8 1278.7 405.1 1283.1 405.4 1287.5C405.7 1291.8 406.0 1296.2 406.3 1300.6C406.6 1304.9 407.0 1309.3 407.4 1313.6C407.8 1318.0 408.2 1322.4 408.7 1326.7C409.1 1331.1 409.6 1335.4 410.1 1339.7C410.7 1344.1 411.2 1348.4 411.8 1352.7C412.5 1357.0 413.1 1361.3 413.8 1365.6C414.5 1369.9 415.3 1374.2 416.1 1378.5C416.9 1382.8 417.7 1387.1 418.6 1391.3C419.6 1395.6 420.5 1399.8 421.6 1404.1C422.6 1408.3 423.6 1412.6 424.9 1416.7C426.2 1420.9 427.5 1425.1 429.2 1429.1C430.9 1433.1 432.8 1437.0 435.2 1440.8C437.6 1444.5 440.3 1448.3 443.5 1451.5C446.7 1454.7 450.5 1458.1 454.3 1459.8C458.1 1461.6 462.6 1462.7 466.5 1462.1C470.4 1461.5 474.4 1458.9 477.5 1456.1C480.6 1453.4 483.0 1449.4 485.1 1445.5C487.2 1441.6 488.4 1437.0 489.9 1432.8C491.5 1428.6 492.8 1424.2 494.3 1420.1C495.8 1415.9 497.2 1411.8 498.9 1407.8C500.5 1403.8 502.2 1399.9 504.1 1396.0C506.0 1392.2 507.9 1388.5 510.2 1384.9C512.4 1381.3 514.8 1377.9 517.5 1374.5C520.2 1371.2 523.1 1368.0 526.4 1364.9C529.6 1361.9 533.2 1359.0 536.9 1356.3C540.6 1353.7 544.6 1351.2 548.7 1349.2C552.7 1347.1 557.0 1345.2 561.2 1343.8C565.4 1342.4 569.8 1341.3 574.1 1340.7C578.3 1340.2 582.6 1340.0 586.8 1340.4C590.9 1340.7 595.0 1341.7 598.9 1343.0C602.9 1344.2 606.8 1346.0 610.5 1348.0C614.3 1350.0 618.0 1352.5 621.6 1355.0C625.1 1357.6 628.6 1360.5 632.0 1363.4C635.4 1366.3 638.8 1369.4 642.0 1372.5C645.2 1375.6 648.3 1378.8 651.4 1381.9C654.5 1385.0 657.5 1388.2 660.6 1391.2C663.7 1394.3 666.7 1397.3 669.8 1400.3C672.9 1403.2 676.1 1406.1 679.4 1408.8C682.7 1411.6 686.1 1414.2 689.6 1416.7C693.1 1419.2 696.8 1421.6 700.5 1423.8C704.3 1426.0 708.1 1428.1 712.1 1430.1C716.0 1432.1 720.1 1433.9 724.1 1435.5C728.2 1437.2 732.4 1438.7 736.6 1440.1C740.8 1441.4 745.1 1442.6 749.4 1443.7C753.7 1444.7 758.1 1445.6 762.5 1446.3C766.8 1447.1 771.2 1447.6 775.6 1448.0C780.0 1448.4 784.4 1448.6 788.8 1448.6C793.1 1448.6 797.5 1448.5 801.8 1448.1C806.2 1447.8 810.5 1447.3 814.8 1446.5C819.0 1445.8 823.2 1444.9 827.4 1443.9C831.6 1442.8 835.7 1441.5 839.8 1440.1C843.9 1438.7 847.9 1437.2 851.9 1435.5C855.9 1433.8 859.9 1431.9 863.8 1430.0C867.7 1428.0 871.5 1425.9 875.3 1423.7C879.1 1421.5 882.8 1419.2 886.5 1416.8C890.2 1414.3 893.8 1411.8 897.4 1409.2C901.0 1406.7 904.5 1404.0 908.0 1401.2C911.5 1398.5 914.9 1395.7 918.2 1392.8C921.6 1390.0 924.9 1387.1 928.1 1384.1C931.4 1381.2 934.5 1378.2 937.6 1375.1C940.7 1372.0 943.8 1368.9 946.7 1365.7C949.7 1362.6 952.6 1359.3 955.4 1356.0C958.2 1352.7 960.9 1349.3 963.6 1345.9C966.2 1342.4 968.8 1338.9 971.3 1335.3C973.8 1331.7 976.1 1328.0 978.5 1324.3C980.8 1320.6 983.0 1316.8 985.3 1313.0C987.5 1309.3 989.7 1305.4 992.0 1301.7C994.2 1297.9 996.5 1294.1 998.8 1290.4C1001.1 1286.6 1003.3 1282.9 1005.6 1279.2C1007.9 1275.5 1010.3 1271.8 1012.6 1268.1C1014.9 1264.4 1017.2 1260.7 1019.5 1257.0C1021.8 1253.2 1024.1 1249.5 1026.4 1245.8C1028.6 1242.1 1030.9 1238.4 1033.2 1234.6C1035.4 1230.9 1037.7 1227.1 1039.9 1223.4C1042.2 1219.6 1044.4 1215.9 1046.6 1212.1C1048.9 1208.4 1051.1 1204.6 1053.3 1200.8C1055.5 1197.1 1057.7 1193.3 1059.9 1189.5C1062.1 1185.7 1064.3 1181.9 1066.5 1178.2C1068.7 1174.4 1070.9 1170.6 1073.1 1166.8C1075.3 1163.0 1077.5 1159.2 1079.7 1155.4C1081.8 1151.6 1084.0 1147.8 1086.2 1144.0C1088.4 1140.2 1090.6 1136.4 1092.8 1132.6C1094.9 1128.8 1097.1 1125.1 1099.3 1121.3C1101.5 1117.5 1103.7 1113.7 1105.9 1109.9C1108.1 1106.1 1110.2 1102.3 1112.4 1098.5C1114.6 1094.7 1116.8 1091.0 1119.0 1087.2C1121.3 1083.4 1123.5 1079.6 1125.7 1075.9C1127.9 1072.1 1130.3 1068.0 1132.4 1064.6C1134.4 1061.1 1137.0 1056.8 1137.9 1055.2" fill="none" stroke="#151515" stroke-width="3.4" stroke-dasharray="21.7 4.4 10.9 4.4 74.5 6.6 32.9 4.4 74.2 8.7 21.8 6.5 96.3 6.7 29.1 4.3 99.1 3.0 28.8 4.2 111.4 8.7 28.5 4.4 109.7 6.5 39.1 8.8 96.6 6.5 26.1 8.8 83.2 6.5 8.7 6.6 54.6 4.4 8.8 6.6 70.0 6.6 8.8 8.7 89.3 0.0"/>
<polyline points="622.2,1285.5 587.8,1285.5 558.4,1344.7" fill="none" stroke="#262626" stroke-width="1"/>
<polyline points="712.6,1283.4 673.4,1283.4 692.8,1342.9" fill="none" stroke="#262626" stroke-width="1"/>
<polyline points="775.5,1282.2 747.9,1282.2 741.0,1405.9" fill="none" stroke="#262626" stroke-width="1"/>
<text x="601.5" y="1279.0" text-anchor="middle" font-family="Liberation Sans, sans-serif" font-size="34.5" font-style="italic" font-weight="bold" fill="#151515">3</text>
<text x="688.5" y="1278.2" text-anchor="middle" font-family="Liberation Sans, sans-serif" font-size="34.5" font-style="italic" font-weight="bold" fill="#151515">2</text>
<text x="763.3" y="1278.2" text-anchor="middle" font-family="Liberation Sans, sans-serif" font-size="34.5" font-style="italic" font-weight="bold" fill="#151515">1</text>
<text x="381.5" y="1052.4" text-anchor="end" font-family="Liberation Sans, sans-serif" font-size="25.2" fill="#151515" stroke="#151515" stroke-width="0.9">ρ, %</text>
<text x="381.5" y="1202.1" text-anchor="end" font-family="Liberation Sans, sans-serif" font-size="25.2" fill="#151515" stroke="#151515" stroke-width="0.9">2,0</text>
<text x="381.5" y="1339.7" text-anchor="end" font-family="Liberation Sans, sans-serif" font-size="25.2" fill="#151515" stroke="#151515" stroke-width="0.9">1,0</text>
<text x="524.8" y="1493.6" text-anchor="middle" font-family="Liberation Sans, sans-serif" font-size="25" font-weight="bold" fill="#151515" stroke="#151515" stroke-width="0.6">440</text>
<text x="798.1" y="1493.6" text-anchor="middle" font-family="Liberation Sans, sans-serif" font-size="25" font-weight="bold" fill="#151515" stroke="#151515" stroke-width="0.6">600</text>
<text x="1073.4" y="1493.6" text-anchor="middle" font-family="Liberation Sans, sans-serif" font-size="25" font-weight="bold" fill="#151515" stroke="#151515" stroke-width="0.6">760</text>
<text x="1215.6" y="1493.6" text-anchor="middle" font-family="Liberation Sans, sans-serif" font-size="25" font-weight="bold" fill="#151515" stroke="#151515" stroke-width="0.6" letter-spacing="-0.7">λ, нм</text>
</svg>
<div class="legend">
<div class="ln lg" style="top:1556.70px"><i>1</i> — без ошибок в оптической толщине слоев (<i>n</i><sub>1</sub><i>h</i><sub>1</sub> = <i>n</i><sub>3</sub><i>h</i><sub>3</sub> = 125 нм, <i>n</i><sub>2</sub><i>h</i><sub>2</sub> = 250 нм);</div>
<div class="ln lg" style="top:1583.80px"><i>2, 3</i> — с разнозначными ошибками (±20 нм) в оптических толщинах 1-го и 2-го слоев</div>
</div>
<figcaption>
<div class="ln cp" style="top:1642.34px">Рисунок К.4 — Кривые спектральных коэффициентов отражения <span class="sym">ρ</span>(<span class="sym">λ</span>)</div>
<div class="ln cp" style="top:1672.24px">трехслойных покрытий без ошибок и с разнозначными ошибками</div>
<div class="ln cp" style="top:1702.14px">в оптической толщине 1-го и 2-го слоев</div>
</figcaption>
</figure>
</main>
<footer class="pg">81</footer>
</div>
</body>
</html>
